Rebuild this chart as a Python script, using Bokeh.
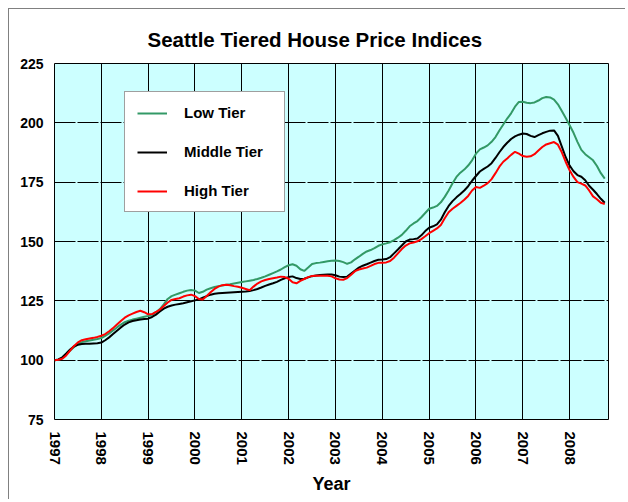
from bokeh.plotting import figure
from bokeh.models import FixedTicker, Legend, LegendItem
from bokeh.embed import file_html
from bokeh.resources import INLINE

title_text = "Seattle Tiered House Price Indices"
x_label = "Year"
series_names = ["Low Tier", "Middle Tier", "High Tier"]
series_colors = ["#339966", "#000000", "#ff0000"]
start_year = 1997
year_ticks = [1997, 1998, 1999, 2000, 2001, 2002, 2003, 2004, 2005, 2006, 2007, 2008]
y_ticks = [75, 100, 125, 150, 175, 200, 225]

# monthly index values, Jan 1997 .. Oct 2008
low_tier = [
    100.0, 100.2, 101.0, 102.5, 104.0, 105.5, 106.8, 107.6, 108.0, 108.3, 108.6, 108.9,
    109.3, 110.2, 111.3, 112.5, 113.8, 115.0, 116.0, 116.6, 117.1, 117.5, 117.9, 118.3,
    118.6, 119.2, 120.2, 121.5, 123.5, 125.8, 127.0, 127.6, 128.2, 128.8, 129.3, 129.6,
    129.3, 128.3, 128.8, 129.7, 130.3, 130.8, 131.2, 131.5, 131.8, 132.0, 132.3, 132.6,
    132.9, 133.2, 133.5, 133.8, 134.2, 134.7, 135.3, 136.0, 136.7, 137.4, 138.2, 139.2,
    140.0, 140.4, 139.8, 138.3, 137.6, 139.0, 140.5, 140.9, 141.1, 141.4, 141.7, 141.9,
    142.0, 141.8, 141.3, 140.6, 141.2, 142.5, 143.6, 144.8, 145.8, 146.4, 147.2, 148.2,
    148.8, 149.2, 149.7, 150.6, 151.6, 152.8, 154.5, 156.4, 157.6, 158.6, 160.2, 162.0,
    163.8, 164.3, 165.0, 166.5, 168.8, 171.5, 174.5, 177.2, 179.0, 180.3, 182.0, 184.2,
    187.0, 188.8, 189.6, 190.5, 192.0, 194.0, 196.8, 199.3, 201.8, 204.0, 206.8, 208.8,
    208.9, 208.5, 208.3, 208.6, 209.4, 210.4, 210.9, 210.7, 209.8, 207.8, 205.0, 202.0,
    199.0, 195.8, 192.0, 188.6, 186.8, 185.5, 184.2, 181.8, 178.8, 176.5,
]
middle_tier = [
    100.0, 100.3, 101.2, 102.8, 104.5, 105.8, 106.5, 106.8, 106.9, 106.9, 107.0, 107.1,
    107.4, 108.4, 109.6, 111.0, 112.4, 113.8, 115.0, 115.9, 116.5, 116.8, 117.1, 117.3,
    117.5, 118.2, 119.2, 120.5, 121.7, 122.5, 123.0, 123.4, 123.7, 124.0, 124.4, 124.8,
    125.2, 125.6, 126.3, 127.0, 127.6, 128.0, 128.2, 128.3, 128.4, 128.5, 128.6, 128.7,
    128.8, 128.9, 129.1, 129.5, 130.0, 130.6, 131.3, 131.9, 132.4, 133.0, 133.8, 134.5,
    135.0, 135.3, 134.6, 134.2, 134.3, 134.9, 135.4, 135.7, 135.9, 136.0, 136.1, 136.1,
    135.8, 135.2, 135.0, 135.2, 136.5, 137.8, 139.0, 139.8, 140.4, 141.1, 141.8, 142.3,
    142.4, 142.6, 143.4, 145.0, 146.6, 148.3, 150.0, 150.8, 151.0, 151.3, 152.6, 154.4,
    155.8, 156.4, 157.2, 159.2, 162.3, 165.0, 167.0, 168.6, 170.0, 171.5, 173.3, 175.6,
    177.6, 179.5, 180.6, 181.6, 183.0, 185.2, 187.6, 189.8, 191.6, 193.2, 194.3, 195.0,
    195.5, 195.3, 194.5, 194.0, 194.8, 195.6, 196.2, 196.7, 196.8, 194.5, 190.0, 185.5,
    182.0, 179.6, 178.0, 177.3, 175.8, 173.5, 171.8, 170.0, 168.0, 166.3,
]
high_tier = [
    100.0, 100.2, 100.6, 102.0, 104.0, 106.0, 107.5, 108.4, 108.8, 109.1, 109.4, 109.8,
    110.3, 111.0, 112.2, 113.5, 115.0, 116.5, 117.9, 118.9, 119.6, 120.3, 120.8, 120.2,
    119.3, 119.4, 120.3, 121.3, 122.8, 124.3, 125.4, 125.8, 126.1, 126.8, 127.3, 127.6,
    127.0, 125.8, 125.6, 127.0, 128.6, 130.0, 131.0, 131.6, 131.8, 131.6, 131.2, 130.9,
    130.5, 130.0, 129.5, 131.0, 132.3, 133.2, 133.8, 134.2, 134.5, 134.8, 135.2, 135.0,
    134.3, 132.8, 132.4, 133.4, 134.2, 135.0, 135.5, 135.6, 135.6, 135.6, 135.6, 135.3,
    134.5, 134.0, 133.9, 134.6, 136.0, 137.5, 138.2, 138.6, 139.0, 139.7, 140.5, 141.0,
    141.0, 141.2, 141.8, 143.2, 145.0, 146.8, 148.3, 149.2, 149.6, 150.1, 151.0, 152.2,
    153.5, 154.5, 155.5, 157.0, 159.8, 162.3, 163.8, 165.0, 166.2, 167.6, 169.2, 171.5,
    173.0, 172.6, 173.5, 174.6, 176.3, 178.8, 181.5, 183.6, 185.0, 186.5, 187.8, 187.0,
    186.0, 185.7, 185.9, 186.8, 188.3, 189.8, 190.9, 191.4, 191.9, 190.8, 187.6, 183.5,
    180.0, 177.2, 175.0, 174.4, 173.6, 171.5, 169.0, 167.8, 166.3, 165.8,
]

months = [start_year + i / 12 for i in range(len(low_tier))]

FONT = "Liberation Sans"

p = figure(
    width=617, height=491,
    x_range=(1997, 2008.83), y_range=(75, 225),
    output_backend="svg", toolbar_location=None,
    min_border_left=45, min_border_right=18, min_border_top=54, min_border_bottom=81,
    background_fill_color="#ccffff", border_fill_color="white",
)
p.styles = {
    "margin-left": "8px", "margin-top": "8px",
    "border-left": "1px solid #808080", "border-top": "1px solid #808080",
}

p.title.text = title_text
p.title.text_font = FONT
p.title.text_font_style = "bold"
p.title.text_font_size = "20.5px"
p.title.align = "left"
p.title.offset = 93
p.title.standoff = 25
p.title.text_color = "black"

p.outline_line_color = "black"
p.outline_line_width = 1

# grids
p.xgrid.ticker = FixedTicker(ticks=year_ticks)
p.xgrid.grid_line_color = "black"
p.xgrid.grid_line_width = 1
p.xgrid.grid_line_alpha = 1
p.ygrid.ticker = FixedTicker(ticks=y_ticks)
p.ygrid.grid_line_color = "black"
p.ygrid.grid_line_width = 1
p.ygrid.grid_line_alpha = 1
p.ygrid.grid_line_dash = "21 2"

# axes
for ax in (p.xaxis[0], p.yaxis[0]):
    ax.axis_line_color = None
    ax.major_tick_line_color = None
    ax.minor_tick_line_color = None
    ax.major_tick_in = 0
    ax.major_tick_out = 0
    ax.minor_tick_in = 0
    ax.minor_tick_out = 0
    ax.major_label_text_font = FONT
    ax.major_label_text_font_style = "bold"
    ax.major_label_text_font_size = "14px"
    ax.major_label_text_color = "black"

p.xaxis.ticker = FixedTicker(ticks=year_ticks)
p.xaxis.major_label_orientation = "vertical"
p.xaxis.major_label_text_font_size = "15px"
p.xaxis.major_label_standoff = 12
p.xaxis.axis_label = x_label
p.xaxis.axis_label_text_font = FONT
p.xaxis.axis_label_text_font_style = "bold"
p.xaxis.axis_label_text_font_size = "18px"
p.xaxis.axis_label_text_color = "black"
p.xaxis.axis_label_standoff = 6

p.yaxis.ticker = FixedTicker(ticks=y_ticks)
p.yaxis.major_label_standoff = 11

renderers = []
for vals, color in zip([low_tier, middle_tier, high_tier], series_colors):
    r = p.line(months, vals, line_color=color, line_width=2)
    renderers.append(r)

legend = Legend(
    items=[LegendItem(label=n, renderers=[r]) for n, r in zip(series_names, renderers)],
    location=(70, 207),
)
legend.margin = 0
legend.padding = 12
legend.spacing = 22
legend.glyph_height = 16
legend.glyph_width = 30
legend.label_height = 16
legend.label_width = 88
legend.label_standoff = 17
legend.label_text_font = FONT
legend.label_text_font_style = "bold"
legend.label_text_font_size = "15px"
legend.label_text_color = "black"
legend.border_line_color = "#404040"
legend.border_line_width = 1
legend.background_fill_color = "white"
legend.background_fill_alpha = 1
p.add_layout(legend)

open("out.html", "w").write(file_html(p, INLINE))
